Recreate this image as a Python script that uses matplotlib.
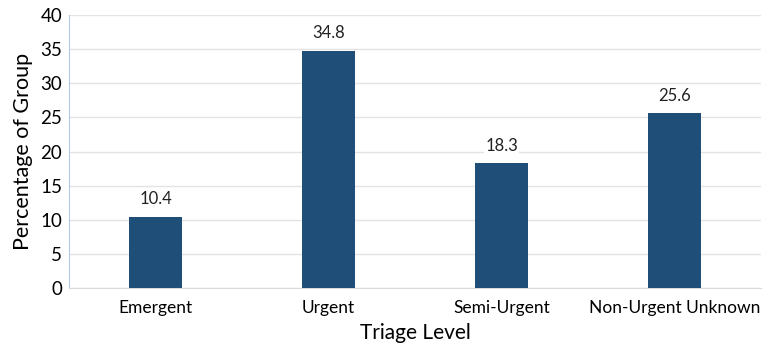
import matplotlib.pyplot as plt

levels = ["Emergent", "Urgent", "Semi-Urgent", "Non-Urgent Unknown"]
percentages = [10.4, 34.8, 18.3, 25.6]
yticks = [0, 5, 10, 15, 20, 25, 30, 35, 40]

plt.rcParams["font.family"] = ["Lato", "DejaVu Sans"]

fig = plt.figure(figsize=(7.71, 3.44), dpi=100)
ax = fig.add_axes([0.0895, 0.163, 0.8975, 0.793])

x = range(len(levels))
ax.bar(x, percentages, width=0.31, color="#1f4e79", zorder=3)

for xi, val in zip(x, percentages):
    ax.text(xi, val + 1.4, f"{val}", ha="center", va="bottom",
            fontsize=12, color="#222222", zorder=4,
            bbox=dict(facecolor="white", edgecolor="none", pad=1))

ax.set_xlim(-0.5, 3.5)
ax.set_ylim(0, 40)
ax.set_yticks(yticks)
ax.set_xticks(list(x))
ax.set_xticklabels(levels, fontsize=12.5)
ax.tick_params(axis="y", labelsize=13.5, length=0, pad=5)
ax.tick_params(axis="x", length=0, pad=9)

ax.grid(axis="y", color="#e3e3e3", linewidth=1, zorder=0)
for side in ["top", "right"]:
    ax.spines[side].set_visible(False)
ax.spines["left"].set_color("#b4cbe8")
ax.spines["bottom"].set_color("#d9d9d9")

ax.set_xlabel("Triage Level", fontsize=15, labelpad=5)
ax.set_ylabel("Percentage of Group", fontsize=15.5, labelpad=5)

fig.savefig("out.png", dpi=100)
